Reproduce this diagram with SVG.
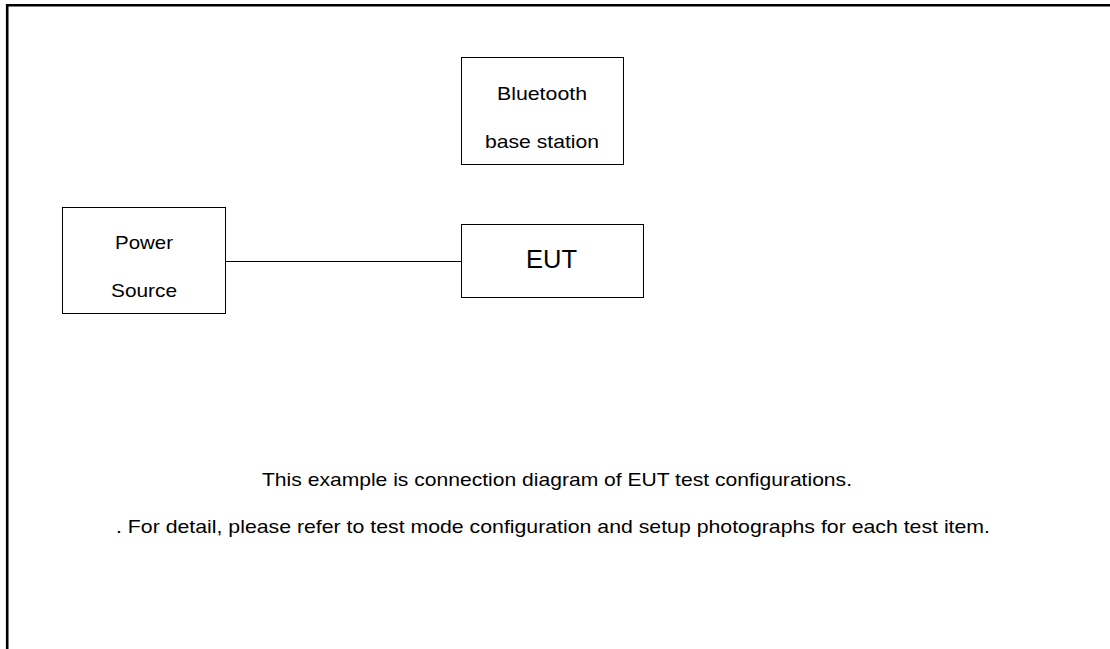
<svg xmlns="http://www.w3.org/2000/svg" width="1110" height="649" viewBox="0 0 1110 649">
<style>
.box{fill:#fff;stroke:#000;stroke-width:1}
.t{font-family:"Liberation Sans",Arial,sans-serif;font-size:19px;fill:#000}
.conn{stroke:#000;stroke-width:1;fill:none}
</style>
<rect width="1110" height="649" fill="#fff"/>
<path d="M7.2,649 V5.3 H1110" fill="none" stroke="#000" stroke-width="2.6"/>
<g id="connectors">
<line class="conn" x1="225.5" y1="261.5" x2="461.5" y2="261.5"/>
</g>
<g id="bluetooth">
<rect class="box" x="461.5" y="57.5" width="162" height="107"/>
<text class="t" x="497" y="100" textLength="90" lengthAdjust="spacingAndGlyphs">Bluetooth</text>
<text class="t" x="485" y="148" textLength="114" lengthAdjust="spacingAndGlyphs">base station</text>
</g>
<g id="power">
<rect class="box" x="62.5" y="207.5" width="163" height="106"/>
<text class="t" x="115" y="249" textLength="58" lengthAdjust="spacingAndGlyphs">Power</text>
<text class="t" x="111" y="297" textLength="66" lengthAdjust="spacingAndGlyphs">Source</text>
</g>
<g id="eut">
<rect class="box" x="461.5" y="224.5" width="182" height="73"/>
<text class="t" x="526" y="268" style="font-size:25px" textLength="51" lengthAdjust="spacingAndGlyphs">EUT</text>
</g>
<g id="notes">
<text class="t" x="262" y="486" textLength="590" lengthAdjust="spacingAndGlyphs">This example is connection diagram of EUT test configurations.</text>
<text class="t" x="116" y="533" textLength="874" lengthAdjust="spacingAndGlyphs">. For detail, please refer to test mode configuration and setup photographs for each test item.</text>
</g>
</svg>
